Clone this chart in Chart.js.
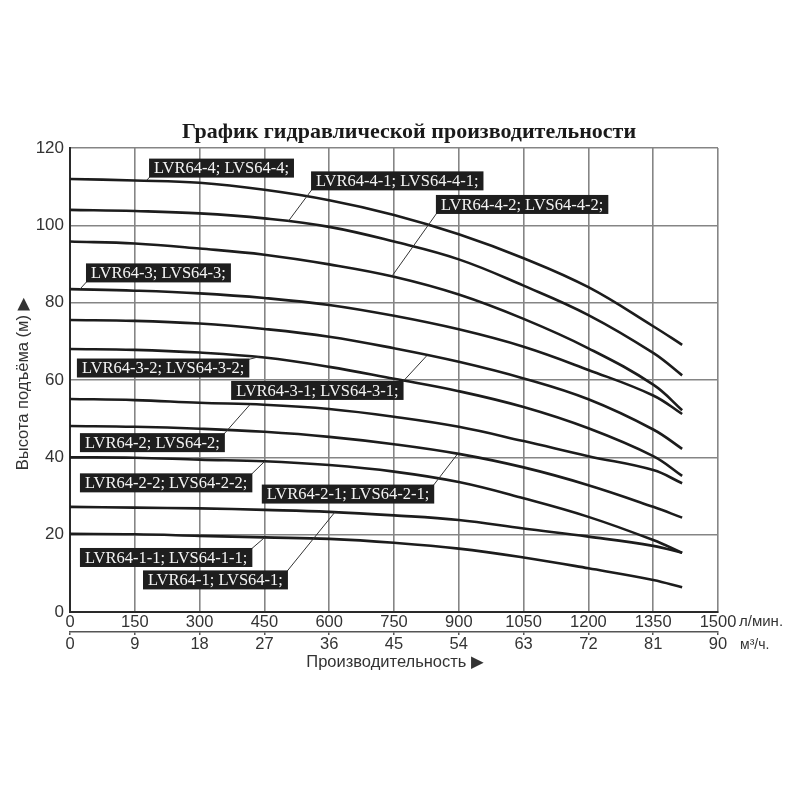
<!DOCTYPE html>
<html><head><meta charset="utf-8">
<script src="https://cdn.jsdelivr.net/npm/chart.js@4.4.0/dist/chart.umd.min.js"></script>
<style>html,body{margin:0;padding:0;background:#fff}#wrap{width:800px;height:800px}</style>
</head><body><div id="wrap"><canvas id="c" width="800" height="800"></canvas></div>
<script>
// ---- data ----
const flowLpm = [0, 150, 300, 450, 600, 750, 900, 1050, 1200, 1350, 1417];
const xTicksLpm = [0, 150, 300, 450, 600, 750, 900, 1050, 1200, 1350, 1500];
const xTicksM3h = [0, 9, 18, 27, 36, 45, 54, 63, 72, 81, 90];
const yTicks = [0, 20, 40, 60, 80, 100, 120];

const h_64_4   = [112, 111.6, 111, 109.2, 106.5, 102.7, 97.7, 91.5, 84, 73.9, 69.1];
const h_64_4_1 = [104, 103.7, 103.1, 101.8, 99.6, 95.8, 91.2, 84.4, 76.8, 67, 61.2];
const h_64_4_2 = [95.8, 95.3, 94, 92.4, 89.9, 86.7, 82.1, 75.8, 68.2, 58.8, 52.2];
const h_64_3   = [83.5, 83.1, 82.4, 81.2, 79.4, 76.6, 73.1, 68.6, 62.6, 56, 51.2];
const h_64_3_1 = [75.5, 75.3, 74.6, 73.2, 71.2, 68.2, 64.7, 60.4, 55, 47.2, 42.2];
const h_64_3_2 = [68, 67.8, 67.1, 65.8, 63.4, 60.3, 57.1, 53.0, 47.5, 40.3, 35.2];
const h_64_2   = [55.1, 54.8, 54.1, 53.6, 52.5, 50.5, 47.9, 44.2, 40.3, 36.7, 33.3];
const h_64_2_1 = [48.1, 47.9, 47.4, 46.6, 45.3, 43.4, 40.9, 37.4, 32.8, 27.2, 24.4];
const h_64_2_2 = [40, 39.9, 39.4, 39, 38, 36.3, 33.6, 29.4, 24.6, 18.6, 15.3];
const h_64_1   = [27.2, 27, 26.8, 26.4, 25.9, 25, 23.8, 21.6, 19.5, 17.1, 15.3];
const h_64_1_1 = [20.2, 20.1, 19.7, 19.3, 18.9, 17.9, 16.4, 14.1, 11.3, 8.3, 6.4];

const seriesNames = ["LVR64-4; LVS64-4;", "LVR64-4-1; LVS64-4-1;", "LVR64-4-2; LVS64-4-2;",
  "LVR64-3; LVS64-3;", "LVR64-3-1; LVS64-3-1;", "LVR64-3-2; LVS64-3-2;",
  "LVR64-2; LVS64-2;", "LVR64-2-1; LVS64-2-1;", "LVR64-2-2; LVS64-2-2;",
  "LVR64-1; LVS64-1;", "LVR64-1-1; LVS64-1-1;"];
const seriesValues = [h_64_4, h_64_4_1, h_64_4_2, h_64_3, h_64_3_1, h_64_3_2,
  h_64_2, h_64_2_1, h_64_2_2, h_64_1, h_64_1_1];

// label boxes (in data units) and where their leader lines touch the curves
const labelBoxLeftX   = [183, 558, 847, 37, 373, 16, 23, 444, 23, 169, 23];
const labelBoxCenterY = [114.8, 111.5, 105.4, 87.7, 57.3, 63.1, 43.8, 30.5, 33.4, 8.3, 14.1];
const labelAttach     = ["bl", "bl", "bl", "bl", "tr", "tr", "tr", "tr", "tr", "tr", "tr"];
const leaderX         = [178, 505, 745, 23, 826, 437, 417, 898, 451, 613, 451];
const leaderY         = [111.7, 101, 86.8, 83.5, 66.3, 66, 53.7, 41, 39, 25.8, 19.3];

const titleText = "График гидравлической производительности";
const yTitleText = "Высота подъёма (м) \u25B6";
const xTitleText = "Производительность \u25B6";
const unitLpm = "л/мин.";
const unitM3h = "м\u00B3/ч.";

const SANS = "'Liberation Sans', Arial, 'DejaVu Sans', sans-serif";
const SERIF = "'Liberation Serif', 'Times New Roman', serif";

const datasets = seriesValues.map((vals, i) => ({
  label: seriesNames[i],
  data: vals.map((v, j) => ({x: flowLpm[j], y: v})),
  borderColor: '#1c1c1c',
  borderWidth: 2.6,
  pointRadius: 0,
  fill: false,
  tension: 0.4
}));

const overlay = {
  id: 'overlay',
  afterDatasetsDraw(chart) {
    const ctx = chart.ctx, xs = chart.scales.x, ys = chart.scales.y;
    ctx.save();
    ctx.font = "16.5px " + SERIF;
    const bh = 19;
    seriesNames.forEach((t, i) => {
      const left = xs.getPixelForValue(labelBoxLeftX[i]);
      const cy = ys.getPixelForValue(labelBoxCenterY[i]);
      const w = ctx.measureText(t).width + 10;
      const top = cy - bh / 2;
      let ax, ay;
      if (labelAttach[i] === 'bl') { ax = left + 1; ay = top + bh - 1; }
      else { ax = left + w - 1; ay = top + 1; }
      ctx.strokeStyle = '#333';
      ctx.lineWidth = 1;
      ctx.beginPath();
      ctx.moveTo(ax, ay);
      ctx.lineTo(xs.getPixelForValue(leaderX[i]), ys.getPixelForValue(leaderY[i]));
      ctx.stroke();
      ctx.fillStyle = '#1e1e1e';
      ctx.fillRect(left, top, w, bh);
      ctx.fillStyle = '#f4f4f4';
      ctx.textAlign = 'left';
      ctx.textBaseline = 'middle';
      ctx.fillText(t, left + 5, cy + 1);
    });
    ctx.restore();
  },
  afterDraw(chart) {
    const ctx = chart.ctx, xs = chart.scales.x, ca = chart.chartArea;
    ctx.save();
    ctx.fillStyle = '#1a1a1a';
    ctx.font = "bold 22px " + SERIF;
    ctx.textAlign = 'center';
    ctx.textBaseline = 'middle';
    ctx.fillText(titleText, 409, 132);
    ctx.font = "16.5px " + SANS;
    ctx.fillStyle = '#333';
    ctx.save();
    ctx.translate(23, (ca.top + ca.bottom) / 2 + 4);
    ctx.rotate(-Math.PI / 2);
    ctx.fillText(yTitleText, 0, 0);
    ctx.restore();
    ctx.fillText(xTitleText, (ca.left + ca.right) / 2 + 1, 662);
    ctx.textAlign = 'left';
    ctx.font = "15px " + SANS;
    const xr = xs.getPixelForValue(1500);
    ctx.fillText(unitLpm, xr + 21, 622);
    ctx.font = "14px " + SANS;
    ctx.fillText(unitM3h, xr + 22, 645);
    ctx.restore();
  }
};

const plainNum = v => String(v);

new Chart(document.getElementById('c'), {
  type: 'line',
  data: {datasets},
  plugins: [overlay],
  options: {
    responsive: false,
    animation: false,
    devicePixelRatio: 1,
    layout: {padding: {left: 0, right: 82, top: 148, bottom: 118}},
    plugins: {legend: {display: false}, tooltip: {enabled: false}, title: {display: false}},
    scales: {
      x: {
        type: 'linear', position: 'bottom', min: 0, max: 1500,
        afterBuildTicks: s => { s.ticks = xTicksLpm.map(v => ({value: v})); },
        grid: {color: '#858585', lineWidth: 1.6, drawTicks: false},
        border: {color: '#2a2a2a', width: 2},
        ticks: {font: {size: 16.5, family: SANS}, color: '#333', padding: 1, maxRotation: 0, autoSkip: false, callback: plainNum},
        afterFit: s => { s.height = 20; }
      },
      x2: {
        type: 'linear', position: 'bottom', min: 0, max: 90,
        afterBuildTicks: s => { s.ticks = xTicksM3h.map(v => ({value: v})); },
        grid: {drawOnChartArea: false, tickLength: 3, color: '#555', lineWidth: 1.5},
        border: {color: '#555', width: 1.5},
        ticks: {font: {size: 16.5, family: SANS}, color: '#333', padding: 0, maxRotation: 0, autoSkip: false, callback: plainNum},
        afterFit: s => { s.height = 50; }
      },
      y: {
        type: 'linear', position: 'left', min: 0, max: 120,
        afterBuildTicks: s => { s.ticks = yTicks.map(v => ({value: v})); },
        grid: {color: '#858585', lineWidth: 1.6, drawTicks: false},
        border: {color: '#2a2a2a', width: 2},
        ticks: {font: {size: 17, family: SANS}, color: '#333', padding: 6, callback: plainNum},
        afterFit: s => { s.width = 70; }
      }
    }
  }
});
</script>
</body></html>
